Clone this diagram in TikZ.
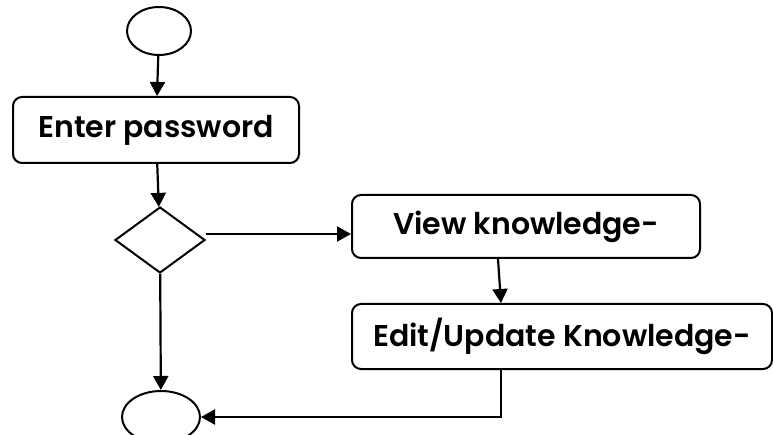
\documentclass[tikz,border=0pt]{standalone}
\usepackage{fontspec}
\setmainfont{Poppins}[BoldFont={Poppins SemiBold}]
\usetikzlibrary{shapes.geometric,arrows.meta}

\begin{document}
\begin{tikzpicture}[x=1pt,y=-1pt,
    every node/.style={line width=2pt},
    box/.style={draw, rectangle, rounded corners=9pt, inner sep=0pt,
        font=\fontsize{30}{34}\selectfont\bfseries},
    terminal/.style={draw, ellipse, inner sep=0pt},
    choice/.style={draw, diamond, inner sep=0pt, minimum width=90pt, minimum height=66pt},
    >={Triangle[length=14pt,width=15pt]}, line width=2.2pt]

    \useasboundingbox (0,0) rectangle (773,435);

    \node[terminal, minimum width=64pt, minimum height=48pt] (start) at (159,31) {};
    \node[box, minimum width=286pt, minimum height=66pt] (pwd) at (156,130) {Enter password};
    \node[choice] (dec) at (160,240) {};
    \node[box, minimum width=348pt, minimum height=63pt] (view) at (526,226.5) {View knowledge-};
    \node[box, minimum width=420pt, minimum height=65pt] (edit) at (562,336.5) {Edit/Update Knowledge-};
    \node[terminal, minimum width=78pt, minimum height=52pt] (stop) at (161,417) {};

    \draw[->] (start) -- (pwd);
    \draw[->] (pwd) -- (dec);
    \draw[->] ([yshift=6pt]dec.east) -- ([yshift=6pt]dec.east -| view.west);
    \draw[->] ([xshift=-28pt]view.south) -- ([xshift=-61pt]edit.north);
    \draw[->] ([xshift=-61pt]edit.south) |- (stop.east);
    \draw[->] (dec) -- (stop);
\end{tikzpicture}
\end{document}
